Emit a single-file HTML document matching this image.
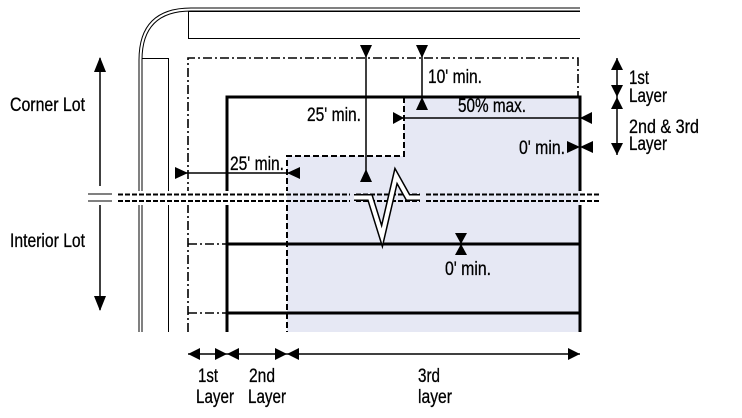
<!DOCTYPE html>
<html><head><meta charset="utf-8"><style>
body{margin:0;background:#fff}
svg{display:block}
</style></head><body>
<svg width="742" height="418" viewBox="0 0 742 418" xmlns="http://www.w3.org/2000/svg">
<path d="M404 97 H580 V332 H287 V156 H404 Z" fill="#e6e8f4"/>
<path d="M139 332 V60 Q139 8 191 8 H580" fill="none" stroke="#000" stroke-width="1"/>
<path d="M142 332 V60 Q142 11 191 11 H580" fill="none" stroke="#000" stroke-width="1"/>
<path d="M580 11.5 H188.5 V38.5 H580" fill="none" stroke="#000"/>
<path d="M142 58.5 H168.5 V332" fill="none" stroke="#000"/>
<path d="M188 332 V58 H578 V97" fill="none" stroke="#000" stroke-width="1.6" stroke-dasharray="9,3,2,3"/>
<path d="M188 244 H227 M188 313 H227" fill="none" stroke="#000" stroke-width="1.6" stroke-dasharray="9,3,2,3"/>
<path d="M227 332 V97 H580 V332" fill="none" stroke="#000" stroke-width="3"/>
<path d="M227 244 H580 M227 313 H580" stroke="#000" stroke-width="3"/>
<path d="M404 97 V156 H287 V332" fill="none" stroke="#000" stroke-width="2" stroke-dasharray="6,3"/>
<rect x="114" y="191" width="490" height="14" fill="#fff"/>
<rect x="287" y="191" width="293" height="14" fill="#e6e8f4"/>
<rect x="88" y="186" width="24" height="20" fill="#fff"/>
<path d="M88 194 H112 M88 201 H112" stroke="#000"/>
<path d="M118 194.5 H600 M118 201 H600" stroke="#000" stroke-width="2" stroke-dasharray="5,2"/>
<path d="M352 197.5 H370 L382 236 L396 176 L408 197.5 H422" fill="none" stroke="#000" stroke-width="7" stroke-linejoin="miter"/>
<path d="M350 197.5 H370 L382 236 L396 176 L408 197.5 H424" fill="none" stroke="#fff" stroke-width="4" stroke-linejoin="miter"/>
<rect x="350" y="193" width="4" height="10" fill="#e6e8f4"/>
<rect x="420" y="193" width="6" height="10" fill="#e6e8f4"/>
<g stroke="#000" stroke-width="1.5" fill="none">
<path d="M366 46 V181"/>
<path d="M422 46 V97"/>
<path d="M393 118 H592"/>
<path d="M175 173 H300"/>
<path d="M461 233 V255"/>
<path d="M617 58 V155"/>
<path d="M100 58 V186 M100 205 V310"/>
<path d="M188 354 H580"/>
</g>
<g fill="#000">
<path d="M360 45 H372 L366 58 Z"/>
<path d="M360 182 H372 L366 169 Z"/>
<path d="M416 45 H428 L422 58 Z"/>
<path d="M416 110 H428 L422 97 Z"/>
<path d="M393 112 V124 L404 118 Z"/>
<path d="M592 112 V124 L580 118 Z"/>
<path d="M567 141 V153 L580 147 Z"/>
<path d="M593 141 V153 L580 147 Z"/>
<path d="M175 167 V179 L188 173 Z"/>
<path d="M300 167 V179 L287 173 Z"/>
<path d="M455 233 H467 L461 244 Z"/>
<path d="M455 255 H467 L461 244 Z"/>
<path d="M611 70 H623 L617 58 Z"/>
<path d="M611 85 H623 L617 97 Z"/>
<path d="M611 109 H623 L617 97 Z"/>
<path d="M611 143 H623 L617 155 Z"/>
<path d="M94 72 H106 L100 57 Z"/>
<path d="M94 296 H106 L100 311 Z"/>
<path d="M200 348 V360 L188 354 Z"/>
<path d="M215 348 V360 L227 354 Z"/>
<path d="M239 348 V360 L227 354 Z"/>
<path d="M275 348 V360 L287 354 Z"/>
<path d="M299 348 V360 L287 354 Z"/>
<path d="M568 348 V360 L580 354 Z"/>
</g>
<g font-family="Liberation Sans, sans-serif" font-size="19" fill="#000" stroke="#000" stroke-width="0.3">
<text x="307" y="121" textLength="54" lengthAdjust="spacingAndGlyphs">25' min.</text>
<text x="230" y="170" textLength="54" lengthAdjust="spacingAndGlyphs">25' min.</text>
<text x="428" y="83" textLength="54" lengthAdjust="spacingAndGlyphs">10' min.</text>
<text x="458" y="112" textLength="68" lengthAdjust="spacingAndGlyphs">50% max.</text>
<text x="519" y="154" textLength="46" lengthAdjust="spacingAndGlyphs">0' min.</text>
<text x="445" y="275" textLength="46" lengthAdjust="spacingAndGlyphs">0' min.</text>
<text x="629" y="84" textLength="20" lengthAdjust="spacingAndGlyphs">1st</text>
<text x="629" y="102" textLength="38" lengthAdjust="spacingAndGlyphs">Layer</text>
<text x="629" y="133" textLength="70" lengthAdjust="spacingAndGlyphs">2nd &amp; 3rd</text>
<text x="629" y="150" textLength="38" lengthAdjust="spacingAndGlyphs">Layer</text>
<text x="10" y="111" textLength="75" lengthAdjust="spacingAndGlyphs">Corner Lot</text>
<text x="10" y="247" textLength="75" lengthAdjust="spacingAndGlyphs">Interior Lot</text>
<text x="198" y="382" textLength="20" lengthAdjust="spacingAndGlyphs">1st</text>
<text x="196" y="403" textLength="38" lengthAdjust="spacingAndGlyphs">Layer</text>
<text x="249" y="382" textLength="26" lengthAdjust="spacingAndGlyphs">2nd</text>
<text x="248" y="403" textLength="38" lengthAdjust="spacingAndGlyphs">Layer</text>
<text x="418" y="382" textLength="22" lengthAdjust="spacingAndGlyphs">3rd</text>
<text x="418" y="403" textLength="34" lengthAdjust="spacingAndGlyphs">layer</text>
</g>
</svg>
</body></html>
